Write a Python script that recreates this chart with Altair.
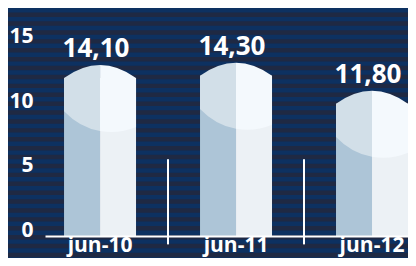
import altair as alt
import pandas as pd

# ---- data ----
categories = ["jun-10", "jun-11", "jun-12"]
values = [14.10, 14.30, 11.80]
y_ticks = [0, 5, 10, 15]
halves = ["L", "R"]
separator_cats = ["jun-11", "jun-12"]

# ---- layout / style constants ----
W, H = 363, 228
AXIS_MAX = 17.67      # axis scale domain top
BAR_MAX = 20.36       # bar scale domain top
SEP_TOP, SEP_BOTTOM = 5.95, -0.65
STRIPE_P = 8.9
STRIPE_PHASE = 0.0
N_STRIPES = 32
DARK = "#1f2943"
BLUE = "#0d3161"
FONT = "Open Sans"

# cap shapes (unit = half bar width)
CAP_L = "M 0 1.47 Q -0.566 1.374 -1 0.92 L -1 0 Q -0.5 -0.361 0 -0.361 Z"
CAP_R = "M 0 1.47 L 0 -0.361 Q 0.5 -0.361 1 0 L 1 1.36 Q 0.516 1.56 0 1.47 Z"
CAP_SIZE = 5184

df = pd.DataFrame({"cat": categories, "value": values})
df["label"] = [f"{v:.2f}".replace(".", ",") for v in values]
df_halves = pd.DataFrame(
    [{"cat": c, "half": h, "value": v} for c, v in zip(categories, values) for h in halves]
)
df_sep = pd.DataFrame({"cat": separator_cats, "top": SEP_TOP, "bottom": SEP_BOTTOM})
df_stripes = pd.DataFrame({"k": list(range(N_STRIPES))})
df_stripes["s0"] = df_stripes["k"] + STRIPE_PHASE
df_stripes["s1"] = df_stripes["s0"] + 0.5

x_scale = alt.Scale(domain=categories, paddingInner=0.4706, paddingOuter=0.07, align=1)
x_axis = alt.Axis(
    title=None, labelFont=FONT, labelFontWeight="bold", labelFontSize=21,
    labelColor="white", ticks=False, tickSize=0, domainColor="white",
    domainWidth=2, labelPadding=15, labelBaseline="alphabetic", labelAngle=0,
    grid=False, zindex=2,
)
bar_scale = alt.Scale(domain=[0, BAR_MAX], nice=False, zero=True)

stripes = alt.Chart(df_stripes).mark_rect(color=BLUE).encode(
    x=alt.value(-40), x2=alt.value(W + 20),
    y=alt.Y("s0:Q", scale=alt.Scale(domain=[0, H / STRIPE_P], reverse=True, nice=False), axis=None),
    y2="s1:Q",
)

axis_layer = alt.Chart(df_sep).mark_rule(color="white", strokeWidth=2, xOffset=-68).encode(
    x=alt.X("cat:N", scale=x_scale, axis=x_axis),
    y=alt.Y("top:Q", scale=alt.Scale(domain=[0, AXIS_MAX], nice=False),
            axis=alt.Axis(title=None, values=y_ticks, orient="left", grid=False,
                          ticks=False, tickSize=0, domain=False, labelFont=FONT,
                          labelFontWeight="bold", labelFontSize=21, labelColor="white",
                          labelPadding=12, labelOffset=-5.5, zindex=2)),
    y2="bottom:Q",
)

rects = alt.Chart(df_halves).mark_bar().encode(
    x=alt.X("cat:N", scale=x_scale, axis=x_axis),
    xOffset=alt.XOffset("half:N", scale=alt.Scale(domain=halves, paddingInner=0, paddingOuter=0)),
    y=alt.Y("value:Q", scale=bar_scale, axis=None, stack=None),
    color=alt.Color("half:N", scale=alt.Scale(domain=halves, range=["#adc5d7", "#ecf1f5"]), legend=None),
)

cap_l = alt.Chart(df).mark_point(shape=CAP_L, size=CAP_SIZE, filled=True, opacity=1,
                                 color="#d2dfe8", strokeWidth=0).encode(
    x=alt.X("cat:N", scale=x_scale, axis=x_axis),
    y=alt.Y("value:Q", scale=bar_scale, axis=None),
)
cap_r = alt.Chart(df).mark_point(shape=CAP_R, size=CAP_SIZE, filled=True, opacity=1,
                                 color="#f4f9fd", strokeWidth=0).encode(
    x=alt.X("cat:N", scale=x_scale, axis=x_axis),
    y=alt.Y("value:Q", scale=bar_scale, axis=None),
)
text = alt.Chart(df).mark_text(font=FONT, fontWeight="bold", fontSize=26, color="white",
                               dx=-4, dy=-21, baseline="alphabetic", align="center").encode(
    x=alt.X("cat:N", scale=x_scale, axis=x_axis),
    y=alt.Y("value:Q", scale=bar_scale, axis=None),
    text="label:N",
)

bars = alt.layer(rects, cap_l, cap_r, text)

chart = alt.layer(stripes, axis_layer, bars).resolve_scale(y="independent").properties(
    width=W, height=H,
    padding={"left": 37, "top": 0, "right": 0, "bottom": 22},
    autosize=alt.AutoSizeParams(type="none"),
    background=DARK,
).configure_view(stroke=None)

chart.save("out.html", embed_options={"renderer": "svg", "actions": False})
